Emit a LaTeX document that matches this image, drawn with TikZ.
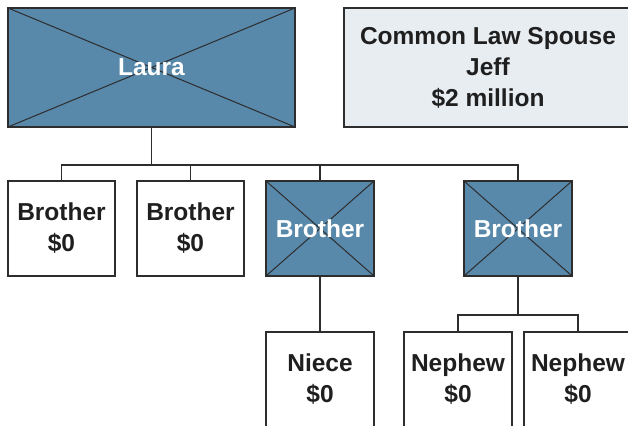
\documentclass[tikz,border=0pt]{standalone}
\usepackage{fontspec}
\setmainfont{Liberation Sans}
\usetikzlibrary{positioning}
\definecolor{heirblue}{RGB}{88,136,170}
\definecolor{spousegray}{RGB}{232,237,242}
\definecolor{linegray}{RGB}{45,45,45}
\tikzset{
  person/.style={draw=linegray, line width=1.2pt, fill=white, inner sep=0pt,
    minimum width=107pt, minimum height=95pt, align=center, text=black!88,
    font=\fontsize{24.5}{31}\selectfont\bfseries},
  deceased/.style={person, fill=heirblue, text=white,
    path picture={\draw[linegray, line width=1pt]
      (path picture bounding box.north west) -- (path picture bounding box.south east)
      (path picture bounding box.north east) -- (path picture bounding box.south west);}},
  link/.style={draw=linegray, line width=1.4pt},
}

\begin{document}
\begin{tikzpicture}[x=1pt,y=-1pt]
\path[use as bounding box, clip] (0,0) rectangle (628,425);
% top row
\node[deceased, minimum width=287pt, minimum height=119pt] (laura) at (151.5,67.5) {Laura};
\node[person, fill=spousegray, minimum width=288pt, minimum height=119pt] (spouse) at (488,67.5) {Common Law Spouse\\Jeff\\\$2 million};
% siblings
\node[person] (bro1) at (61.5,228.5) {Brother\\\$0};
\node[person] (bro2) at (190.5,228.5) {Brother\\\$0};
\node[deceased, minimum width=108pt] (bro3) at (320,228.5) {Brother};
\node[deceased, minimum width=108pt] (bro4) at (518,228.5) {Brother};
% nieces and nephews
\node[person, minimum width=108pt] (niece) at (320,379.5) {Niece\\\$0};
\node[person, minimum width=108pt] (neph1) at (458,379.5) {Nephew\\\$0};
\node[person, minimum width=108pt] (neph2) at (578,379.5) {Nephew\\\$0};
\coordinate (sibbus) at (0,165);
\coordinate (nephbus) at (0,315);
\draw[link] (laura.south) -- (laura.south |- sibbus);
\draw[link] (bro1.north) -- (bro1.north |- sibbus) -- (bro4.north |- sibbus) -- (bro4.north);
\draw[link] (bro2.north) -- (bro2.north |- sibbus);
\draw[link] (bro3.north) -- (bro3.north |- sibbus);
\draw[link] (bro3.south) -- (niece.north);
\draw[link] (bro4.south) -- (bro4.south |- nephbus);
\draw[link] (neph1.north) -- (neph1.north |- nephbus) -- (neph2.north |- nephbus) -- (neph2.north);
\end{tikzpicture}
\end{document}
